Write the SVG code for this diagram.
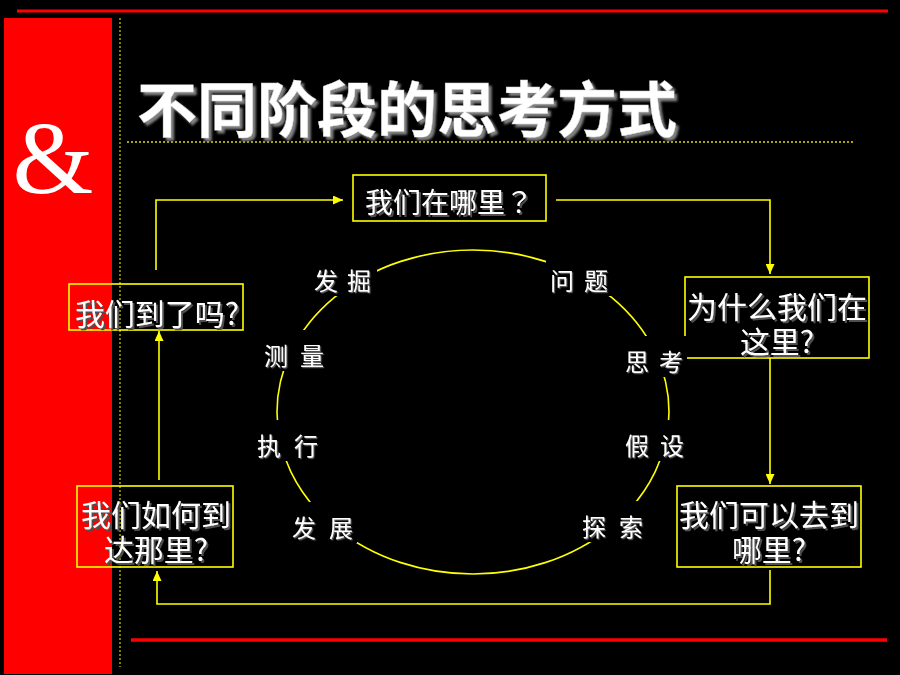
<svg xmlns="http://www.w3.org/2000/svg" width="900" height="675" viewBox="0 0 900 675">
<defs>
<style>
.cjk{font-family:"Noto Sans CJK SC","Noto Sans CJK JP",sans-serif;}
.box{fill:none;stroke:#ffff00;stroke-width:1.6;}
.bt{font-size:30px;fill:#ffffff;text-anchor:middle;filter:url(#sh);}
.lb{font-size:24px;fill:#ffffff;filter:url(#sh1);}
.bg{fill:#000000;}
.con{fill:none;stroke:#ffff00;stroke-width:1.6;}
</style>
<filter id="sh" x="-10%" y="-20%" width="120%" height="140%">
<feDropShadow dx="2" dy="2" stdDeviation="0.3" flood-color="#505050" flood-opacity="1"/>
</filter>
<filter id="sh1" x="-10%" y="-20%" width="120%" height="140%">
<feDropShadow dx="1.2" dy="1.2" stdDeviation="0.2" flood-color="#606060" flood-opacity="1"/>
</filter>
<filter id="tsh" x="-5%" y="-20%" width="110%" height="140%">
<feDropShadow dx="3" dy="3" stdDeviation="1" flood-color="#808080" flood-opacity="1"/>
</filter>
<marker id="ah" markerUnits="userSpaceOnUse" markerWidth="10" markerHeight="9" refX="10" refY="4.5" orient="auto">
<path d="M0,0 L10,4.5 L0,9 z" fill="#ffff00"/>
</marker>
</defs>
<rect x="0" y="0" width="900" height="675" fill="#000000"/>
<g id="decor">
<rect x="4" y="18" width="108" height="656" fill="#ff0000"/>
<line x1="17" y1="11" x2="888" y2="11" stroke="#ff0000" stroke-width="3"/>
<line x1="131" y1="640" x2="887" y2="640" stroke="#ff0000" stroke-width="3.5"/>
<line x1="120" y1="18" x2="120" y2="667" stroke="#a8a800" stroke-width="1.5" stroke-dasharray="2,2"/>
<line x1="127" y1="142" x2="854" y2="142" stroke="#e0e000" stroke-width="1.5" stroke-dasharray="2,2"/>
<text x="53" y="193" font-family="'Liberation Serif',serif" font-size="104" fill="#ffffff" text-anchor="middle">&amp;</text>
</g>
<g id="title" class="cjk">
<text x="137" y="132" font-size="60" font-weight="bold" fill="#ffffff" stroke="#d0d0d0" stroke-width="0.4" filter="url(#tsh)">不同阶段的思考方式</text>
</g>
<g id="connectors">
<path class="con" d="M156,270 V200 H343" marker-end="url(#ah)"/>
<path class="con" d="M556,200 H770 V274" marker-end="url(#ah)"/>
<path class="con" d="M770,358 V484" marker-end="url(#ah)"/>
<path class="con" d="M770,570 V604 H157 V571" marker-end="url(#ah)"/>
<path class="con" d="M159,480 V331" marker-end="url(#ah)"/>
</g>
<g id="node-where">
<rect class="box" x="353" y="175" width="193" height="46"/>
<text class="bt" x="449" y="213" style="font-size:28px;font-family:'Noto Sans CJK JP','Noto Sans CJK SC',sans-serif">我们在哪里？</text>
</g>
<g id="node-why" class="cjk">
<rect class="box" x="685" y="277" width="184" height="81"/>
<text class="bt" y="318"><tspan x="777">为什么我们在</tspan><tspan x="777" dy="35">这里?</tspan></text>
</g>
<g id="node-can" class="cjk">
<rect class="box" x="677" y="486" width="184" height="81"/>
<text class="bt" y="526"><tspan x="769">我们可以去到</tspan><tspan x="769" dy="35">哪里?</tspan></text>
</g>
<g id="node-how" class="cjk">
<rect class="box" x="77" y="486" width="156" height="81"/>
<text class="bt" y="526"><tspan x="156">我们如何到</tspan><tspan x="156" dy="35">达那里?</tspan></text>
</g>
<g id="node-arrived" class="cjk">
<rect class="box" x="69" y="284" width="174" height="46"/>
<text class="bt" x="157" y="325">我们到了吗?</text>
</g>
<g id="cycle">
<ellipse cx="473" cy="412" rx="196" ry="162" fill="none" stroke="#ffff00" stroke-width="1.6"/>
</g>
<g id="label-fajue" class="cjk">
<rect class="bg" x="310" y="255" width="67" height="41"/>
<text class="lb" y="290"><tspan x="314">发</tspan><tspan x="347">掘</tspan></text>
</g>
<g id="label-wenti" class="cjk">
<rect class="bg" x="546" y="255" width="66" height="41"/>
<text class="lb" y="290"><tspan x="550">问</tspan><tspan x="584">题</tspan></text>
</g>
<g id="label-celiang" class="cjk">
<rect class="bg" x="260" y="330" width="68" height="41"/>
<text class="lb" y="365"><tspan x="264">测</tspan><tspan x="300">量</tspan></text>
</g>
<g id="label-sikao" class="cjk">
<rect class="bg" x="621" y="336" width="66" height="41"/>
<text class="lb" y="371"><tspan x="625">思</tspan><tspan x="659">考</tspan></text>
</g>
<g id="label-zhixing" class="cjk">
<rect class="bg" x="253" y="420" width="69" height="41"/>
<text class="lb" y="455"><tspan x="257">执</tspan><tspan x="294">行</tspan></text>
</g>
<g id="label-jiashe" class="cjk">
<rect class="bg" x="621" y="420" width="67" height="41"/>
<text class="lb" y="455"><tspan x="625">假</tspan><tspan x="660">设</tspan></text>
</g>
<g id="label-fazhan" class="cjk">
<rect class="bg" x="288" y="502" width="69" height="41"/>
<text class="lb" y="537"><tspan x="292">发</tspan><tspan x="329">展</tspan></text>
</g>
<g id="label-tansuo" class="cjk">
<rect class="bg" x="578" y="501" width="69" height="41"/>
<text class="lb" y="536"><tspan x="582">探</tspan><tspan x="619">索</tspan></text>
</g>
</svg>
